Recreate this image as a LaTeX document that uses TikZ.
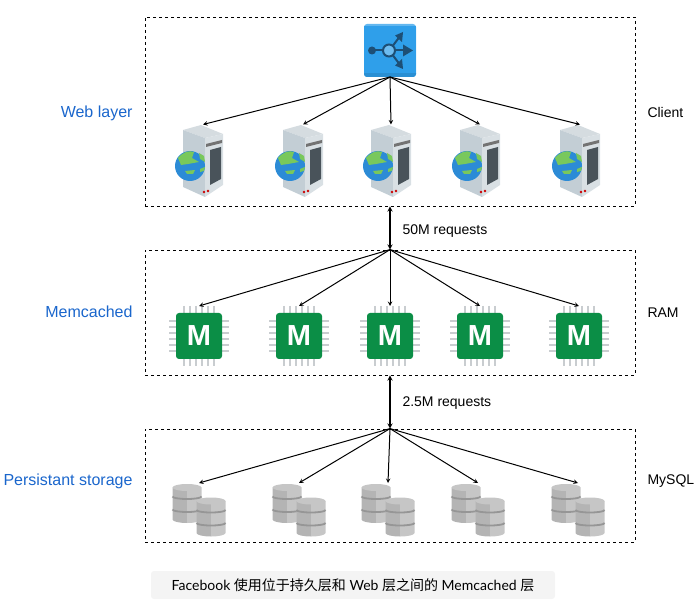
\documentclass[tikz,border=0pt]{standalone}
\usepackage{fontspec}
\setmainfont{Liberation Sans}
\newfontfamily\capfont{Lato}
\newfontfamily\cjk{Noto Sans CJK SC}
\usepackage{xcolor}
\usetikzlibrary{arrows, calc, positioning}
\definecolor{layerblue}{HTML}{1A66CC}
\definecolor{hubblue}{HTML}{2F9FEA}
\definecolor{hubdark}{HTML}{1D4F76}
\definecolor{chipgreen}{HTML}{0B8E46}
\definecolor{pingray}{HTML}{C9CDD0}
\definecolor{srvtop}{HTML}{D5DCE0}
\definecolor{srvleft}{HTML}{C3CED5}
\definecolor{srvright}{HTML}{D9E0E4}
\definecolor{srvdark}{HTML}{49535A}
\definecolor{globeblue}{HTML}{2C8BD6}
\definecolor{globegreen}{HTML}{79C85C}
\definecolor{dbdark}{HTML}{B4B4B4}
\definecolor{dblight}{HTML}{C6C6C6}
\definecolor{dbband}{HTML}{969696}
\tikzset{
    layer/.style={draw, dashed, line width=0.8, minimum width=490, inner sep=0},
    layerlabel/.style={anchor=east, inner sep=0, text height=11, text depth=3, text=layerblue, font=\fontsize{16}{18}\selectfont},
    sidelabel/.style={anchor=west, inner sep=0, text height=10, text depth=3, font=\fontsize{14}{16}\selectfont},
    reqlabel/.style={anchor=west, inner sep=0, text height=10, text depth=3, font=\fontsize{14}{16}\selectfont},
    iconbox/.style={inner sep=0, outer sep=0},
    srvbox/.style={iconbox, minimum width=42, minimum height=73},
    chipbox/.style={iconbox, minimum width=58, minimum height=60},
    dbbox/.style={iconbox, minimum width=54, minimum height=54},
    server/.pic={
        \fill[srvtop] (-20,-31) -- (-2,-36) -- (20,-27) -- (2,-23) -- cycle;
        \fill[srvleft] (-20,-31) -- (2,-23) -- (2,36) -- (-20,26) -- cycle;
        \fill[srvright] (2,-23) -- (20,-27) -- (20,24) -- (2,36) -- cycle;
        \fill[black!55] (3,-17) -- (19,-21) -- (19,-18) -- (3,-14) -- cycle;
        \fill[srvdark] (7,-11) -- (18,-14) -- (18,18) -- (7,24) -- cycle;
        \fill[red!80!black] (1,31) circle (1.4) (5,30) circle (1.4);
        \fill[globeblue] (-13,5) circle (15);
        \fill[globegreen] (-25,-3) .. controls (-20,-9) and (-14,-11) .. (-9,-9) -- (-11,-3) -- (-4,1) -- (-15,3) -- (-22,4) -- cycle;
        \fill[globegreen] (-4,-8) -- (1,-5) -- (2,1) -- (-3,-2) -- cycle;
        \fill[globegreen] (-18,10) -- (-8,9) -- (-10,13) -- (-16,13) -- cycle;
        \fill[globegreen] (-3,8) -- (2,6) -- (1,10) -- (-3,11) -- cycle;
    },
    chip/.pic={
        \foreach \p in {-15,-9,-3,3,9,15} {
            \draw[pingray, line width=1.2] (\p,-30) -- (\p,30);
            \draw[pingray, line width=1.2] (-30,\p) -- (30,\p);
        }
        \fill[chipgreen, rounded corners=3] (-23,-23) rectangle (23,23);
        \node[text=white, font=\bfseries\fontsize{29}{30}\selectfont, inner sep=0] at (0,0) {M};
    },
    dbstack/.pic={
        \fill[dbdark] (-14.5,-16) rectangle (0,16)
            (-14.5,16) arc[x radius=14.5, y radius=3.5, start angle=180, end angle=90] -- (0,16) -- cycle;
        \fill[dblight] (0,-16) rectangle (14.5,16)
            (0,19.5) arc[x radius=14.5, y radius=3.5, start angle=90, end angle=0] -- (0,16) -- cycle;
        \fill[dblight] (0,-16) ellipse[x radius=14.5, y radius=3.5];
        \draw[dbband, line width=1.8] (-14.5,-7) arc[x radius=14.5, y radius=2.5, start angle=180, end angle=0];
        \draw[dbband, line width=1.8] (-14.5,6) arc[x radius=14.5, y radius=2.5, start angle=180, end angle=0];
    },
    hubicon/.pic={
        \fill[hubblue!75!white, rounded corners=3] (-26,-26.5) rectangle (26,26.5);
        \fill[hubblue!90!black, rounded corners=3] (-26,20) rectangle (26,26.5);
        \fill[hubblue] (-26,-24) rectangle (26,23);
        \draw[hubdark, line width=2] (-18,0) -- (-7,0);
        \fill[hubdark] (-18,0) circle (4);
        \draw[hubdark, line width=2] (3,-5) -- (9,-13);
        \draw[hubdark, line width=2] (5,0) -- (14,0);
        \draw[hubdark, line width=2] (3,5) -- (9,13);
        \fill[hubdark] (13,-18.5) -- (5,-15) -- (12,-8.5) -- cycle;
        \fill[hubdark] (23,0) -- (13,-6) -- (13,6) -- cycle;
        \fill[hubdark] (13,18.5) -- (5,15) -- (12,8.5) -- cycle;
        \draw[hubdark, line width=2, fill=hubblue!70!white] (-1,0) circle (6);
    }
}
\begin{document}
\begin{tikzpicture}[x=1pt, y=-1pt, >=stealth, line width=1]
    \useasboundingbox (0,0) rectangle (697,604);
    % layers
    \node[layer, minimum height=189] (web) at (390,111.5) {};
    \node[layer, minimum height=125] (mem) at (390,312.5) {};
    \node[layer, minimum height=113] (store) at (390,485.5) {};
    \node[layerlabel] (weblabel) at (133,114) {Web layer};
    \node[layerlabel] (memlabel) at (133,314) {Memcached};
    \node[layerlabel] (storelabel) at (133,481) {Persistant storage};
    \node[sidelabel] (client) at (647,114) {Client};
    \node[sidelabel] (ram) at (647,314) {RAM};
    \node[sidelabel] (mysql) at (647,481) {MySQL};
    % icons
    \node[iconbox, minimum width=52, minimum height=53] (hub) at (390,50.5) {};
    \pic at (hub) {hubicon};
    \node[srvbox] (srv1) at (203,161) {};
    \node[srvbox] (srv2) at (303,161) {};
    \node[srvbox] (srv3) at (391,161) {};
    \node[srvbox] (srv4) at (480,161) {};
    \node[srvbox] (srv5) at (580,161) {};
    \pic at (srv1) {server};
    \pic at (srv2) {server};
    \pic at (srv3) {server};
    \pic at (srv4) {server};
    \pic at (srv5) {server};
    \node[chipbox] (chip1) at (199,336) {};
    \node[chipbox] (chip2) at (299,336) {};
    \node[chipbox] (chip3) at (390,336) {};
    \node[chipbox] (chip4) at (480,336) {};
    \node[chipbox] (chip5) at (579,336) {};
    \pic at (chip1) {chip};
    \pic at (chip2) {chip};
    \pic at (chip3) {chip};
    \pic at (chip4) {chip};
    \pic at (chip5) {chip};
    \node[dbbox] (db1) at (199,510) {};
    \node[dbbox] (db2) at (299,510) {};
    \node[dbbox] (db3) at (388,510) {};
    \node[dbbox] (db4) at (478,510) {};
    \node[dbbox] (db5) at (578,510) {};
    \foreach \d in {db1,db2,db3,db4,db5} {
        \pic at ($(\d)+(-12,-6.5)$) {dbstack};
        \pic at ($(\d)+(12,7)$) {dbstack};
    }
    % connectors
    \draw
    (hub.south) edge[->] (srv1.north)
    (hub.south) edge[->] (srv2.north)
    (hub.south) edge[->] (srv3.north)
    (hub.south) edge[->] (srv4.north)
    (hub.south) edge[->] (srv5.north)
    (web.south) edge[<->, line width=1.3] (mem.north)
    (mem.north) edge[->] (chip1.north)
    (mem.north) edge[->] (chip2.north)
    (mem.north) edge[->] (chip3.north)
    (mem.north) edge[->] (chip4.north)
    (mem.north) edge[->] (chip5.north)
    (mem.south) edge[<->, line width=1.3] (store.north)
    (store.north) edge[->] (db1.north)
    (store.north) edge[->] (db2.north)
    (store.north) edge[->] (db3.north)
    (store.north) edge[->] (db4.north)
    (store.north) edge[->] (db5.north);
    \node[reqlabel] (req1) at (402,231) {50M requests};
    \node[reqlabel] (req2) at (402,403) {2.5M requests};
    % caption
    \node[fill=black!4.5, rounded corners=3, minimum width=404, minimum height=28, inner sep=0, font=\fontsize{14}{16}\selectfont] (caption) at (353,585) {\capfont Facebook {\cjk 使用位于持久层和} Web {\cjk 层之间的} Memcached {\cjk 层}};
\end{tikzpicture}
\end{document}
